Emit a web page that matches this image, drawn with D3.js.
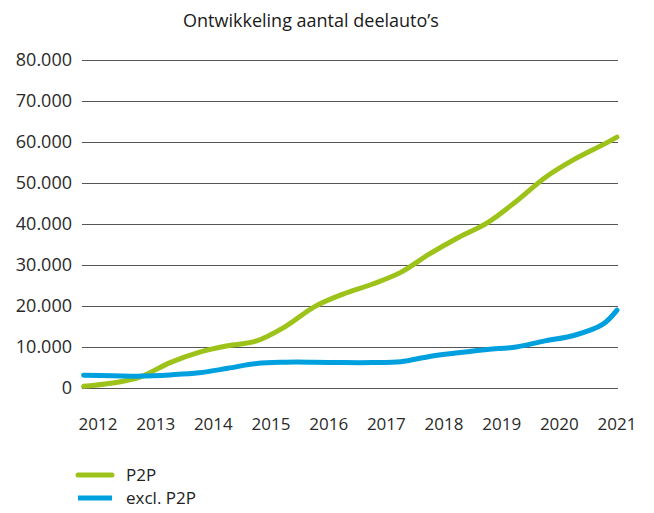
<!DOCTYPE html>
<html>
<head>
<meta charset="utf-8">
<script src="https://cdn.jsdelivr.net/npm/d3@7"></script>
<style>
  html, body { margin: 0; padding: 0; background: #fff; }
  svg { display: block; font-family: "Open Sans", "DejaVu Sans", sans-serif; }
</style>
</head>
<body>
<svg id="chart" width="654" height="513"></svg>
<script>
// ---- data ----
const title = "Ontwikkeling aantal deelauto\u2019s";
const yearLabels = [2012, 2013, 2014, 2015, 2016, 2017, 2018, 2019, 2020, 2021];
const yTicks = [0, 10000, 20000, 30000, 40000, 50000, 60000, 70000, 80000];
const periods = [2011.75, 2012.25, 2012.75, 2013.25, 2013.75, 2014.25, 2014.75, 2015.25, 2015.75, 2016.25,
                 2016.75, 2017.25, 2017.75, 2018.25, 2018.75, 2019.25, 2019.75, 2020.25, 2020.75, 2021.0];
const p2p =      [400, 1200, 2800, 6200, 8700, 10300, 11500, 15000, 19800, 22900,
                  25300, 28200, 32700, 36700, 40300, 45500, 51300, 55700, 59300, 61200];
const exclP2p =  [3100, 3000, 2900, 3200, 3700, 4800, 6000, 6300, 6300, 6200,
                  6200, 6400, 7700, 8600, 9400, 10000, 11500, 12800, 15500, 19000];
const seriesNames = ["P2P", "excl. P2P"];
const seriesColors = ["#9dc31b", "#00a0df"];

// ---- layout ----
const svg = d3.select("#chart");
const x = d3.scaleLinear().domain([2012, 2021]).range([98, 617]);
const y = d3.scaleLinear().domain([0, 80000]).range([388, 60]);
const gridLeft = 82, gridRight = 618;

svg.append("text")
  .attr("x", 311).attr("y", 27)
  .attr("text-anchor", "middle")
  .attr("font-size", 18)
  .attr("fill", "#1a1a1a")
  .text(title);

// gridlines
svg.append("g").selectAll("line").data(yTicks).join("line")
  .attr("x1", gridLeft).attr("x2", gridRight)
  .attr("y1", d => Math.round(y(d)) + 0.5).attr("y2", d => Math.round(y(d)) + 0.5)
  .attr("stroke", "#555").attr("stroke-width", 1);

// y axis labels
const fmt = d => d3.format(",")(d).replace(/,/g, ".");
svg.append("g").selectAll("text").data(yTicks).join("text")
  .attr("x", 72).attr("y", d => y(d))
  .attr("dy", "0.35em")
  .attr("text-anchor", "end")
  .attr("font-size", 18)
  .attr("fill", "#2a2a2a")
  .text(fmt);

// x axis labels
svg.append("g").selectAll("text").data(yearLabels).join("text")
  .attr("x", d => x(d)).attr("y", 424)
  .attr("dy", "0.35em")
  .attr("text-anchor", "middle")
  .attr("font-size", 17)
  .attr("fill", "#2a2a2a")
  .text(d => d);

// lines
const line = d3.line()
  .x((d, i) => x(periods[i]))
  .y(d => y(d))
  .curve(d3.curveCatmullRom.alpha(0.5));

[p2p, exclP2p].forEach((vals, i) => {
  svg.append("path")
    .datum(vals)
    .attr("d", line)
    .attr("fill", "none")
    .attr("stroke", seriesColors[i])
    .attr("stroke-width", 5)
    .attr("stroke-linecap", "round");
});

// legend
const legendY = [475, 498];
seriesNames.forEach((name, i) => {
  svg.append("line")
    .attr("x1", 78).attr("x2", 112)
    .attr("y1", legendY[i]).attr("y2", legendY[i])
    .attr("stroke", seriesColors[i]).attr("stroke-width", 5)
    .attr("stroke-linecap", i === 0 ? "round" : "butt");
  svg.append("text")
    .attr("x", 126).attr("y", legendY[i])
    .attr("dy", "0.35em")
    .attr("font-size", 17)
    .attr("fill", "#222")
    .text(name);
});
</script>
</body>
</html>
